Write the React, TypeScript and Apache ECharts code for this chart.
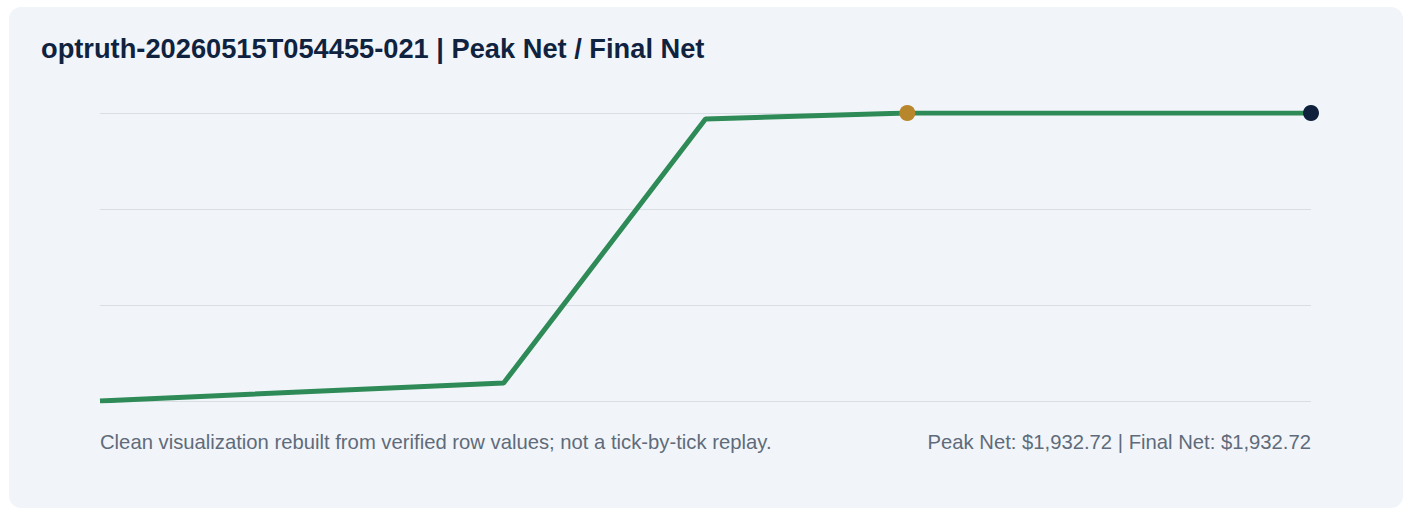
import React, { useEffect, useRef } from "react";
import * as echarts from "echarts";

const title = "optruth-20260515T054455-021 | Peak Net / Final Net";
const footLeft = "Clean visualization rebuilt from verified row values; not a tick-by-tick replay.";
const footRight = "Peak Net: $1,932.72 | Final Net: $1,932.72";

const steps = [0, 2, 3, 4, 6];
const netValues = [0, 121, 1892, 1932.72, 1932.72];
const peakPoint = [4, 1932.72];
const finalPoint = [6, 1932.72];
const yMin = 0;
const yMax = 1932.72;

export default function App() {
  const ref = useRef<HTMLDivElement>(null);
  useEffect(() => {
    if (!ref.current) return;
    const chart = echarts.init(ref.current, null, { renderer: "svg" });
    const ff = "Liberation Sans";
    chart.setOption({
      animation: false,
      grid: { left: 100, right: 97, top: 113, bottom: 107 },
      xAxis: {
        type: "value",
        min: 0,
        max: 6,
        show: false,
        splitLine: { show: false },
      },
      yAxis: {
        type: "value",
        min: yMin,
        max: yMax,
        interval: (yMax - yMin) / 3,
        axisLabel: { show: false },
        axisLine: { show: false },
        axisTick: { show: false },
        splitLine: { show: true, lineStyle: { color: "#d9dee5", width: 1 } },
      },
      graphic: [
        {
          type: "rect",
          shape: { x: 9, y: 7, width: 1394, height: 501, r: 12 },
          style: { fill: "#f1f5f9" },
          z: -10,
          silent: true,
        },
        {
          type: "text",
          x: 41,
          y: 48,
          style: {
            text: title,
            fontFamily: ff,
            fontSize: 27.25,
            fontWeight: "bold",
            fill: "#0f2340",
            verticalAlign: "middle",
          },
        },
        {
          type: "text",
          x: 100,
          y: 442,
          style: {
            text: footLeft,
            fontFamily: ff,
            fontSize: 20.25,
            fill: "#5f6b7a",
            verticalAlign: "middle",
          },
        },
        {
          type: "text",
          x: 1311,
          y: 442,
          style: {
            text: footRight,
            fontFamily: ff,
            fontSize: 20.25,
            fill: "#5f6b7a",
            align: "right",
            verticalAlign: "middle",
          },
        },
      ],
      series: [
        {
          type: "line",
          data: steps.map((s, i) => [s, netValues[i]]),
          showSymbol: false,
          lineStyle: { color: "#2e8b57", width: 5 },
          z: 2,
        },
        {
          type: "scatter",
          data: [peakPoint],
          symbolSize: 16,
          itemStyle: { color: "#b8862b", opacity: 1 },
          z: 3,
        },
        {
          type: "scatter",
          data: [finalPoint],
          symbolSize: 16,
          itemStyle: { color: "#0f203d", opacity: 1 },
          z: 3,
        },
      ],
    });
    return () => chart.dispose();
  }, []);
  return (
    <div
      ref={ref}
      style={{ position: "fixed", left: 0, top: 0, width: 1408, height: 508, background: "#ffffff" }}
    />
  );
}
